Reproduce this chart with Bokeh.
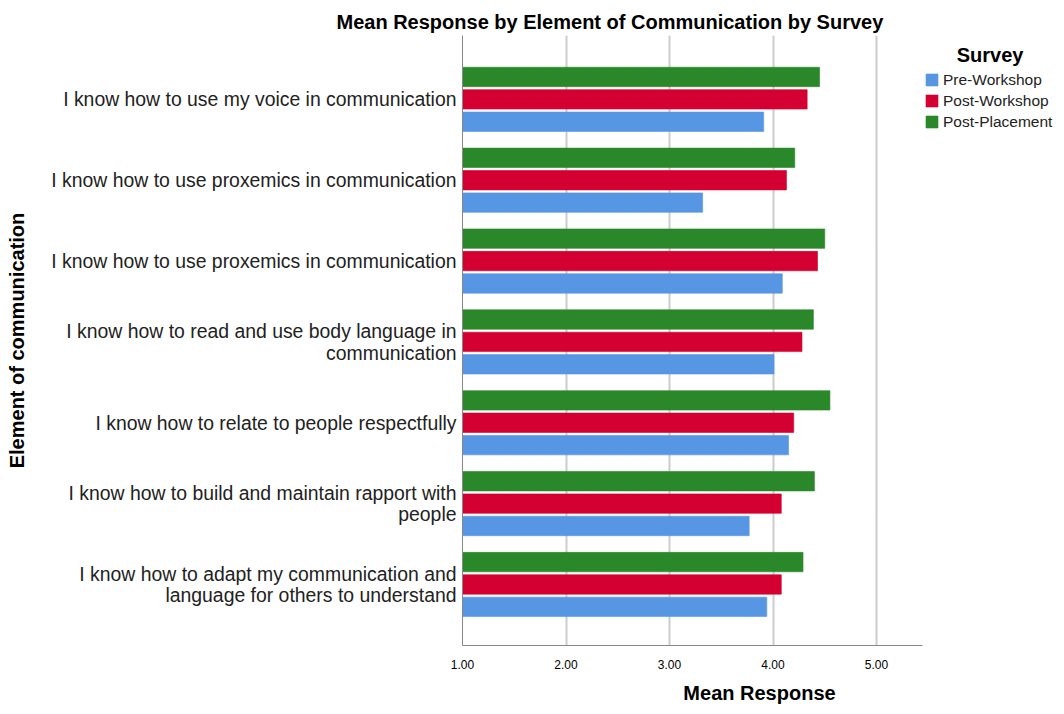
from bokeh.plotting import figure
from bokeh.models import (ColumnDataSource, FixedTicker, PrintfTickFormatter,
                          Legend, LegendItem, Label, Range1d)
from bokeh.embed import file_html
from bokeh.resources import INLINE

elements = [
    "I know how to use my voice in communication",
    "I know how to use proxemics in communication",
    "I know how to use proxemics in communication",
    "I know how to read and use body language in\ncommunication",
    "I know how to relate to people respectfully",
    "I know how to build and maintain rapport with\npeople",
    "I know how to adapt my communication and\nlanguage for others to understand",
]
pre_workshop = [3.91, 3.32, 4.09, 4.01, 4.15, 3.77, 3.94]
post_workshop = [4.33, 4.13, 4.43, 4.28, 4.20, 4.08, 4.08]
post_placement = [4.45, 4.21, 4.50, 4.39, 4.55, 4.40, 4.29]
series_names = ["Pre-Workshop", "Post-Workshop", "Post-Placement"]
series_colors = ["#5796E3", "#D50032", "#2A882A"]
x_ticks = [1, 2, 3, 4, 5]

FONT = "Liberation Sans"
n = len(elements)
centers = [n - 1 - i for i in range(n)]
offset = 0.277
bar_h = 0.24
X_AX = (1, 5.44)

p = figure(width=1056, height=706, output_backend="svg", toolbar_location=None,
           x_range=Range1d(1, 6.739), y_range=Range1d(-0.755, 6.79),
           min_border_left=462, min_border_right=0, min_border_top=35,
           min_border_bottom=58,
           title="Mean Response by Element of Communication by Survey")
p.outline_line_color = None

p.title.text_font = FONT
p.title.text_font_size = "20px"
p.title.text_font_style = "bold"
p.title.text_color = "#000000"
p.title.align = "left"
p.title.offset = -126
p.title.standoff = 5

renderers = []
for vals, name, col, off in zip([pre_workshop, post_workshop, post_placement],
                                series_names, series_colors,
                                [-offset, 0.0, offset]):
    src = ColumnDataSource(dict(y=[c + off for c in centers], right=vals))
    r = p.hbar(y="y", left=1, right="right", height=bar_h, source=src,
               fill_color=col, line_color=col, line_alpha=0.6, line_width=1)
    renderers.append((name, r))

# axes
p.xaxis.bounds = X_AX
p.xaxis.ticker = FixedTicker(ticks=x_ticks)
p.xaxis.formatter = PrintfTickFormatter(format="%.2f")
p.xaxis.axis_label = "Mean Response"
p.xaxis.axis_label_text_font = FONT
p.xaxis.axis_label_text_font_style = "bold"
p.xaxis.axis_label_text_font_size = "20px"
p.xaxis.axis_label_text_color = "#000000"
p.xaxis.axis_label_standoff = 10
p.xaxis.major_label_text_font = FONT
p.xaxis.major_label_text_font_size = "12px"
p.xaxis.major_label_text_color = "#000000"
p.xaxis.major_label_standoff = 8
p.xaxis.major_tick_line_color = None
p.xaxis.minor_tick_line_color = None
p.xaxis.axis_line_color = "#888888"

p.yaxis.ticker = FixedTicker(ticks=centers)
p.yaxis.major_label_overrides = {c: lab for c, lab in zip(centers, elements)}
p.yaxis.major_label_text_font = FONT
p.yaxis.major_label_text_font_size = "19.4px"
p.yaxis.major_label_text_line_height = 0.98
p.yaxis.major_label_text_color = "#222222"
p.yaxis.major_label_standoff = 0
p.yaxis.major_tick_line_color = None
p.yaxis.minor_tick_line_color = None
p.yaxis.axis_line_color = "#888888"
p.yaxis.axis_label = "Element of communication"
p.yaxis.axis_label_text_font = FONT
p.yaxis.axis_label_text_font_style = "bold"
p.yaxis.axis_label_text_font_size = "20px"
p.yaxis.axis_label_text_color = "#000000"
p.yaxis.axis_label_standoff = 20

p.xgrid.ticker = FixedTicker(ticks=x_ticks)
p.xgrid.grid_line_color = "#cccccc"
p.xgrid.grid_line_width = 2
p.ygrid.grid_line_color = None

# legend
p.add_layout(Label(x=6.097, y=6.544, text="Survey", text_align="center",
                   text_baseline="middle", text_font=FONT, text_font_size="20px",
                   text_font_style="bold", text_color="#000000"))
legend = Legend(items=[LegendItem(label=nm, renderers=[r]) for nm, r in renderers],
                location=(462, 513), padding=0, margin=0, spacing=0,
                glyph_width=15, glyph_height=15, label_height=21,
                label_standoff=4, label_text_font=FONT, label_text_font_size="15.5px",
                label_text_color="#222222", border_line_color=None,
                background_fill_alpha=0)
p.add_layout(legend, "center")

open("out.html", "w").write(file_html(p, INLINE))
